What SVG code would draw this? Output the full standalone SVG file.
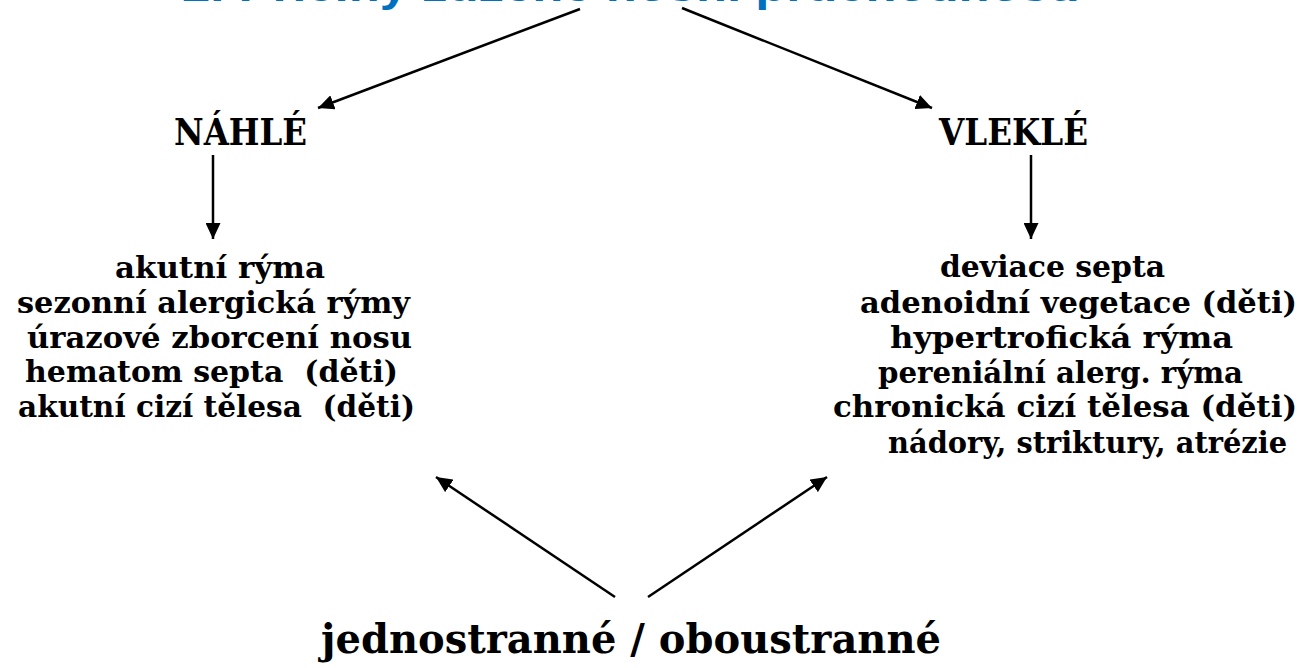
<svg xmlns="http://www.w3.org/2000/svg" width="1304" height="668" viewBox="0 0 1304 668">
<style>
.title{font-family:"Liberation Sans",Arial,sans-serif;font-weight:bold;font-size:42px;fill:#0070C0}
.head{font-family:"DejaVu Serif","Liberation Serif",serif;font-weight:bold;font-size:37px;fill:#000}
.item{font-family:"DejaVu Serif","Liberation Serif",serif;font-weight:bold;font-size:30px;fill:#000;white-space:pre}
.bottom{font-family:"DejaVu Serif","Liberation Serif",serif;font-weight:bold;font-size:41px;fill:#000}
.conn{stroke:#000;stroke-width:2.5;fill:none;marker-end:url(#arr)}
</style>
<defs>
<marker id="arr" viewBox="0 0 16 15" refX="16" refY="7.5" markerWidth="16" markerHeight="15" markerUnits="userSpaceOnUse" orient="auto">
<path d="M0,0 L16,7.5 L0,15 z" fill="#000"/>
</marker>
</defs>
<rect width="1304" height="668" fill="#fff"/>
<g id="title">
<text class="title" x="182" y="1" textLength="898" lengthAdjust="spacingAndGlyphs">2. Příčiny zúžené nosní průchodnosti</text>
</g>
<g id="nahle">
<text class="head" x="174" y="145" textLength="133" lengthAdjust="spacingAndGlyphs">NÁHLÉ</text>
</g>
<g id="vlekle">
<text class="head" x="939" y="145" textLength="149" lengthAdjust="spacingAndGlyphs">VLEKLÉ</text>
</g>
<g id="nahle-list">
<text class="item" x="115" y="278" textLength="210" lengthAdjust="spacingAndGlyphs">akutní rýma</text>
<text class="item" x="17" y="313" textLength="393" lengthAdjust="spacingAndGlyphs">sezonní alergická rýmy</text>
<text class="item" x="27" y="348" textLength="385" lengthAdjust="spacingAndGlyphs">úrazové zborcení nosu</text>
<text class="item" x="25" y="382" textLength="373" lengthAdjust="spacingAndGlyphs">hematom septa  (děti)</text>
<text class="item" x="18" y="417" textLength="397" lengthAdjust="spacingAndGlyphs">akutní cizí tělesa  (děti)</text>
</g>
<g id="vlekle-list">
<text class="item" x="940" y="277" textLength="225" lengthAdjust="spacingAndGlyphs">deviace septa</text>
<text class="item" x="860" y="313" textLength="437" lengthAdjust="spacingAndGlyphs">adenoidní vegetace (děti)</text>
<text class="item" x="890" y="348" textLength="343" lengthAdjust="spacingAndGlyphs">hypertrofická rýma</text>
<text class="item" x="878" y="383" textLength="365" lengthAdjust="spacingAndGlyphs">pereniální alerg. rýma</text>
<text class="item" x="833" y="417" textLength="464" lengthAdjust="spacingAndGlyphs">chronická cizí tělesa (děti)</text>
<text class="item" x="888" y="453" textLength="399" lengthAdjust="spacingAndGlyphs">nádory, striktury, atrézie</text>
</g>
<g id="sides">
<text class="bottom" x="321" y="653" textLength="620" lengthAdjust="spacingAndGlyphs">jednostranné / oboustranné</text>
</g>
<g id="connectors">
<line class="conn" x1="580" y1="9" x2="318" y2="108"/>
<line class="conn" x1="682" y1="8" x2="932" y2="108"/>
<line class="conn" x1="213" y1="155" x2="213" y2="239"/>
<line class="conn" x1="1031" y1="155" x2="1031" y2="239"/>
<line class="conn" x1="615" y1="597" x2="436" y2="477"/>
<line class="conn" x1="648" y1="597" x2="827" y2="477"/>
</g>
</svg>
